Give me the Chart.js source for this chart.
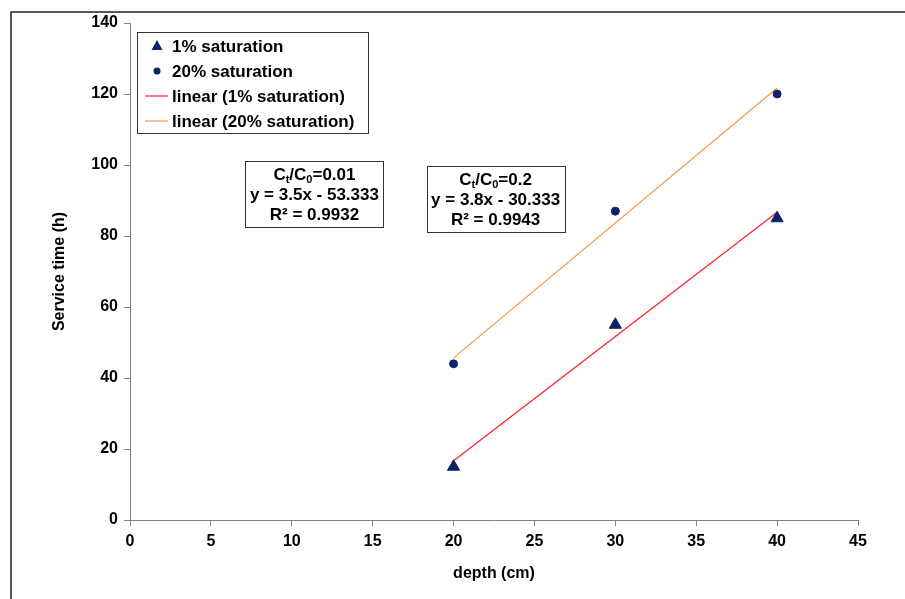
<!DOCTYPE html>
<html>
<head>
<meta charset="utf-8">
<script src="https://cdn.jsdelivr.net/npm/chart.js@4/dist/chart.umd.min.js"></script>
<style>
  html, body { margin: 0; padding: 0; background: #fff; }
  #wrap { width: 905px; height: 599px; }
</style>
</head>
<body>
<div id="wrap"><canvas id="chart" width="905" height="599"></canvas></div>
<script>
// depth (cm) and service time (h) for the two breakthrough levels
const depths = [20, 30, 40];
const time1 = [15, 55, 85];    // 1% saturation
const time20 = [44, 87, 120];  // 20% saturation

// linear fits as printed in the boxes
const fitSlope = [3.5, 3.8];
const fitIntercept = [-53.333, -30.333];
const fitR2 = ['0.9932', '0.9943'];
const fitRatio = ['0.01', '0.2'];

const xTicks = [0, 5, 10, 15, 20, 25, 30, 35, 40, 45];
const yTicks = [0, 20, 40, 60, 80, 100, 120, 140];

const navy = '#0b2466';
const FONT = '"Liberation Sans", Arial, sans-serif';

const fitLine = (i) => [depths[0], depths[depths.length - 1]].map(x => ({
  x: x, y: fitSlope[i] * x + fitIntercept[i]
}));

const data = {
  datasets: [
    {
      label: '1% saturation',
      data: depths.map((d, i) => ({ x: d, y: time1[i] })),
      showLine: false,
      pointStyle: 'triangle',
      pointRadius: 7,
      backgroundColor: navy,
      borderColor: navy,
      borderWidth: 1,
      order: 1
    },
    {
      label: '20% saturation',
      data: depths.map((d, i) => ({ x: d, y: time20[i] })),
      showLine: false,
      pointStyle: 'circle',
      pointRadius: 4,
      backgroundColor: navy,
      borderColor: navy,
      borderWidth: 1,
      order: 1
    },
    {
      label: 'linear (1% saturation)',
      data: fitLine(0),
      showLine: true,
      pointRadius: 0,
      borderColor: '#ff2020',
      borderWidth: 1.2,
      order: 2
    },
    {
      label: 'linear (20% saturation)',
      data: fitLine(1),
      showLine: true,
      pointRadius: 0,
      borderColor: '#f79646',
      borderWidth: 1.2,
      order: 2
    }
  ]
};

// outer frame
const framePlugin = {
  id: 'frame',
  beforeDraw(chart) {
    const ctx = chart.ctx;
    ctx.save();
    ctx.strokeStyle = '#222';
    ctx.lineWidth = 1.5;
    ctx.strokeRect(11, 12, 1000, 1000);
    ctx.restore();
  }
};

// legend box drawn inside the plot
const legendPlugin = {
  id: 'boxLegend',
  afterDraw(chart) {
    const ctx = chart.ctx;
    ctx.save();
    ctx.fillStyle = '#fff';
    ctx.fillRect(137, 32, 231, 101);
    ctx.strokeStyle = '#333';
    ctx.lineWidth = 1;
    ctx.strokeRect(137.5, 32.5, 231, 101);
    ctx.font = 'bold 17px ' + FONT;
    ctx.textBaseline = 'middle';
    ctx.textAlign = 'left';
    chart.data.datasets.forEach((ds, i) => {
      const y = 46 + i * 25;
      if (ds.showLine) {
        ctx.strokeStyle = ds.borderColor;
        ctx.lineWidth = 1.2;
        ctx.beginPath();
        ctx.moveTo(145, y);
        ctx.lineTo(168, y);
        ctx.stroke();
      } else {
        ctx.fillStyle = ds.backgroundColor;
        ctx.beginPath();
        if (ds.pointStyle === 'triangle') {
          ctx.moveTo(157, y - 6);
          ctx.lineTo(162.5, y + 4);
          ctx.lineTo(151.5, y + 4);
          ctx.closePath();
        } else {
          ctx.arc(157, y, 3.5, 0, Math.PI * 2);
        }
        ctx.fill();
      }
      ctx.fillStyle = '#000';
      ctx.fillText(ds.label, 172, y + 1);
    });
    ctx.restore();
  }
};

// fit equation boxes, positioned in data units
const fitBoxes = [
  { x: 11.4, y: 91.8 },
  { x: 22.6, y: 90.3 }
];

const equationPlugin = {
  id: 'equations',
  afterDraw(chart) {
    const ctx = chart.ctx;
    const xs = chart.scales.x, ys = chart.scales.y;
    ctx.save();
    fitBoxes.forEach((b, i) => {
      const cx = xs.getPixelForValue(b.x);
      const cy = ys.getPixelForValue(b.y);
      const w = 138, h = 66;
      ctx.fillStyle = '#fff';
      ctx.fillRect(cx - w / 2, cy - h / 2, w, h);
      ctx.strokeStyle = '#333';
      ctx.lineWidth = 1;
      ctx.strokeRect(Math.round(cx - w / 2) + 0.5, Math.round(cy - h / 2) + 0.5, w, h);
      ctx.fillStyle = '#000';
      ctx.textBaseline = 'middle';

      // first line: C_t/C_0=ratio with subscripts
      const big = 'bold 17px ' + FONT, small = 'bold 11px ' + FONT;
      const parts = [
        ['C', big, 0], ['t', small, 5], ['/C', big, 0], ['0', small, 5], ['=' + fitRatio[i], big, 0]
      ];
      let total = 0;
      parts.forEach(p => { ctx.font = p[1]; total += ctx.measureText(p[0]).width; });
      let px = cx - total / 2;
      const y1 = cy - 19;
      ctx.textAlign = 'left';
      parts.forEach(p => {
        ctx.font = p[1];
        ctx.fillText(p[0], px, y1 + p[2]);
        px += ctx.measureText(p[0]).width;
      });

      ctx.font = big;
      ctx.textAlign = 'center';
      const b0 = Math.abs(fitIntercept[i]).toFixed(3);
      const sign = fitIntercept[i] < 0 ? '-' : '+';
      ctx.fillText('y = ' + fitSlope[i] + 'x ' + sign + ' ' + b0, cx, cy + 1);
      ctx.fillText('R\u00B2 = ' + fitR2[i], cx, cy + 21);
    });
    ctx.restore();
  }
};

const tickFont = { family: FONT, size: 16, weight: 'bold' };
const titleFont = { family: FONT, size: 16, weight: 'bold' };

new Chart(document.getElementById('chart'), {
  type: 'scatter',
  data: data,
  options: {
    responsive: false,
    animation: false,
    layout: { padding: { top: 23, right: 47, left: 42, bottom: 12 } },
    plugins: {
      legend: { display: false },
      tooltip: { enabled: false }
    },
    scales: {
      x: {
        type: 'linear',
        min: 0,
        max: 45,
        afterBuildTicks: (s) => { s.ticks = xTicks.map(v => ({ value: v })); },
        afterFit: (s) => { s.height = 67; },
        border: { color: '#808080', width: 1 },
        grid: { drawOnChartArea: false, drawTicks: true, tickLength: 6, color: '#808080' },
        ticks: { color: '#000', font: tickFont, padding: 6 },
        title: {
          display: true, text: 'depth (cm)', color: '#000',
          font: titleFont, padding: { top: 8 }
        }
      },
      y: {
        type: 'linear',
        min: 0,
        max: 140,
        afterBuildTicks: (s) => { s.ticks = yTicks.map(v => ({ value: v })); },
        afterFit: (s) => { s.width = 88; },
        border: { color: '#808080', width: 1 },
        grid: { drawOnChartArea: false, drawTicks: true, tickLength: 6, color: '#808080' },
        ticks: { color: '#000', font: tickFont, padding: 6 },
        title: {
          display: true, text: 'Service time (h)', color: '#000',
          font: titleFont, padding: { top: 8, bottom: 4 }
        }
      }
    }
  },
  plugins: [framePlugin, legendPlugin, equationPlugin]
});
</script>
</body>
</html>
